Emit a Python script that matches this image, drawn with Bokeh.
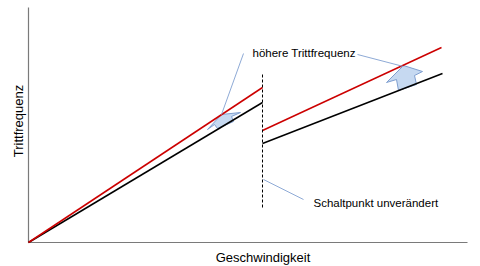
import math
from bokeh.plotting import figure
from bokeh.models import Range1d
from bokeh.embed import file_html
from bokeh.resources import INLINE
from bokeh.core.properties import value

# Data (arbitrary units: speed vs cadence)
x_max = 439
y_max = 235
black_left_x = [0, 234]
black_left_y = [0, 140]
red_left_x = [0, 234]
red_left_y = [0, 155]
black_right_x = [234, 414]
black_right_y = [99, 169]
red_right_x = [234, 413]
red_right_y = [112, 195]
shift_x = [234, 234]
shift_y = [35, 169]

arrow1_x = [193, 212, 203, 205, 189, 186, 179]
arrow1_y = [128, 130, 126, 121, 114, 118, 113]
arrow2_x = [375, 394, 386, 388, 370, 368, 358]
arrow2_y = [177, 171, 167, 158, 152, 163, 160]

leader_x0 = [215, 329, 235]
leader_y0 = [189, 188, 63]
leader_x1 = [193, 375, 275]
leader_y1 = [128, 176, 43]

label_texts = ["höhere Trittfrequenz", "Schaltpunkt unverändert"]
label_x = [224, 285]
label_y = [190, 40]

x_title = "Geschwindigkeit"
y_title = "Trittfrequenz"

FONT = "Liberation Sans"

p = figure(width=480, height=266, output_backend="svg", toolbar_location=None,
           x_range=Range1d(-28, 452), y_range=Range1d(-24, 242),
           min_border=0)
p.outline_line_color = None
p.grid.visible = False
p.axis.visible = False
p.background_fill_color = "white"

# axes lines
p.segment([0, 0], [0, 0], [x_max, 0], [0, y_max], line_color="#7a7a7a", line_width=1.2)

# block arrows
p.patch(arrow1_x, arrow1_y, fill_color="#c6d9f1", line_color="#7f9fd0", line_width=1)
p.patch(arrow2_x, arrow2_y, fill_color="#c6d9f1", line_color="#7f9fd0", line_width=1)

# lines
p.line(black_left_x, black_left_y, line_color="black", line_width=1.5)
p.line(red_left_x, red_left_y, line_color="#cc0000", line_width=1.5)
p.line(black_right_x, black_right_y, line_color="black", line_width=1.5)
p.line(red_right_x, red_right_y, line_color="#cc0000", line_width=1.5)
p.line(shift_x, shift_y, line_color="black", line_width=1, line_dash="3 2")

# leader lines
p.segment(leader_x0, leader_y0, leader_x1, leader_y1, line_color="#8eaad6", line_width=1)

p.text(label_x, label_y, text=label_texts, text_font=value(FONT), text_font_size="11.5px",
       text_baseline="alphabetic", text_align="left", text_color="black")

# axis titles
p.text([234.5], [-15], text=[x_title], text_font=value(FONT), text_font_size="13px",
       text_align="center", text_baseline="alphabetic", text_color="black")
p.text([-9.7], [121.5], text=[y_title], text_font=value(FONT), text_font_size="13px",
       text_align="center", text_baseline="alphabetic", text_color="black",
       angle=math.pi / 2)

open("out.html", "w").write(file_html(p, INLINE))
